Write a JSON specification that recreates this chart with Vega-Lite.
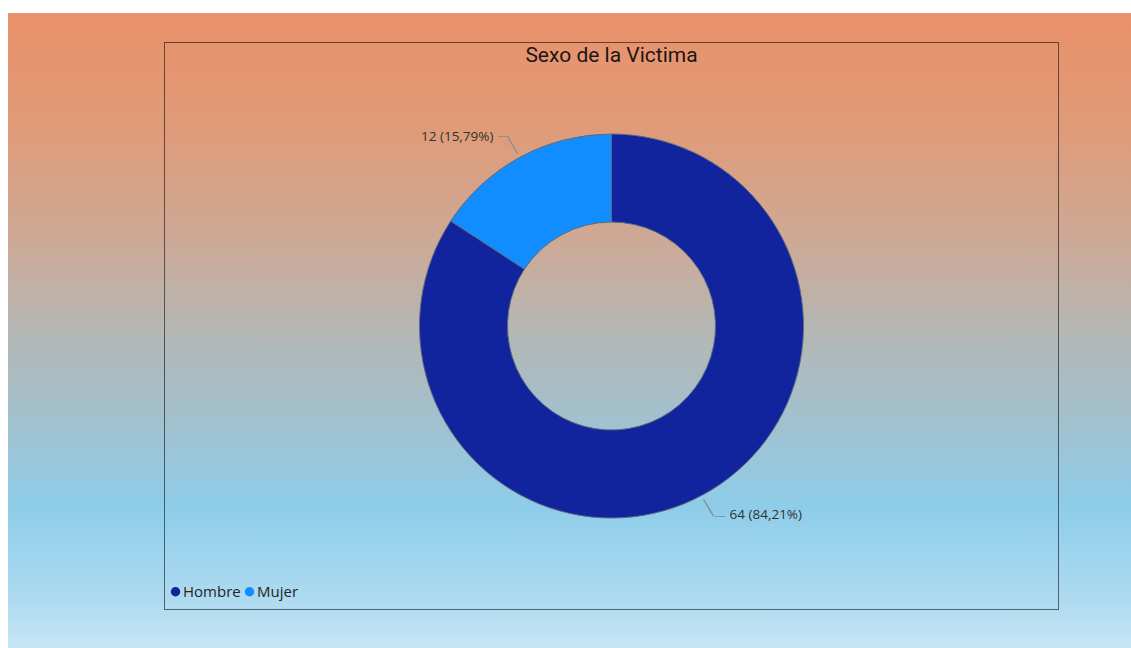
{
  "$schema": "https://vega.github.io/schema/vega-lite/v6.json",
  "background": "white",
  "padding": {"left": 8, "top": 13, "right": 0, "bottom": 0},
  "spacing": 0,
  "bounds": "flush",
  "columns": 3,
  "config": {
    "view": {"stroke": null},
    "legend": {
      "orient": "bottom-left",
      "direction": "horizontal",
      "offset": 10,
      "padding": 0,
      "symbolType": "circle",
      "symbolSize": 90,
      "symbolStrokeWidth": 0,
      "symbolOffset": -6,
      "labelFont": "Open Sans",
      "labelFontSize": 15,
      "labelColor": "#252423",
      "labelOffset": 0,
      "columnPadding": 3
    }
  },
  "resolve": {"scale": {"color": "independent", "theta": "independent"}, "legend": {"color": "independent"}},
  "concat": [
    {
      "width": 156, "height": 29,
      "view": {"fill": {"gradient": "linear", "x1": 0, "y1": 0, "x2": 0, "y2": 21.8966, "stops": [
        {"offset": 0, "color": "#E9916A"}, {"offset": 0.18, "color": "#E09B78"}, {"offset": 0.37, "color": "#CBAA98"},
        {"offset": 0.5, "color": "#B4B7B4"}, {"offset": 0.62, "color": "#A5BFCA"}, {"offset": 0.78, "color": "#8ECDEA"},
        {"offset": 0.92, "color": "#ADDAF0"}, {"offset": 1, "color": "#C6E5F4"}]}},
      "data": {"values": []}, "mark": "rect", "encoding": {}
    },
    {
      "width": 895, "height": 29,
      "view": {"fill": {"gradient": "linear", "x1": 0, "y1": 0, "x2": 0, "y2": 21.8966, "stops": [
        {"offset": 0, "color": "#E9916A"}, {"offset": 0.18, "color": "#E09B78"}, {"offset": 0.37, "color": "#CBAA98"},
        {"offset": 0.5, "color": "#B4B7B4"}, {"offset": 0.62, "color": "#A5BFCA"}, {"offset": 0.78, "color": "#8ECDEA"},
        {"offset": 0.92, "color": "#ADDAF0"}, {"offset": 1, "color": "#C6E5F4"}]}},
      "data": {"values": []}, "mark": "rect", "encoding": {}
    },
    {
      "width": 72, "height": 29,
      "view": {"fill": {"gradient": "linear", "x1": 0, "y1": 0, "x2": 0, "y2": 21.8966, "stops": [
        {"offset": 0, "color": "#E9916A"}, {"offset": 0.18, "color": "#E09B78"}, {"offset": 0.37, "color": "#CBAA98"},
        {"offset": 0.5, "color": "#B4B7B4"}, {"offset": 0.62, "color": "#A5BFCA"}, {"offset": 0.78, "color": "#8ECDEA"},
        {"offset": 0.92, "color": "#ADDAF0"}, {"offset": 1, "color": "#C6E5F4"}]}},
      "data": {"values": []}, "mark": "rect", "encoding": {}
    },
    {
      "width": 156, "height": 568,
      "view": {"fill": {"gradient": "linear", "x1": 0, "y1": -0.051056, "x2": 0, "y2": 1.066901, "stops": [
        {"offset": 0, "color": "#E9916A"}, {"offset": 0.18, "color": "#E09B78"}, {"offset": 0.37, "color": "#CBAA98"},
        {"offset": 0.5, "color": "#B4B7B4"}, {"offset": 0.62, "color": "#A5BFCA"}, {"offset": 0.78, "color": "#8ECDEA"},
        {"offset": 0.92, "color": "#ADDAF0"}, {"offset": 1, "color": "#C6E5F4"}]}},
      "data": {"values": []}, "mark": "rect", "encoding": {}
    },
    {
      "width": 895, "height": 568,
      "view": {"stroke": null, "fill": {"gradient": "linear", "x1": 0, "y1": -0.051056, "x2": 0, "y2": 1.066901, "stops": [
        {"offset": 0, "color": "#E9916A"}, {"offset": 0.18, "color": "#E09B78"}, {"offset": 0.37, "color": "#CBAA98"},
        {"offset": 0.5, "color": "#B4B7B4"}, {"offset": 0.62, "color": "#A5BFCA"}, {"offset": 0.78, "color": "#8ECDEA"},
        {"offset": 0.92, "color": "#ADDAF0"}, {"offset": 1, "color": "#C6E5F4"}]}},
      "title": {"text": "Sexo de la Victima", "font": "Roboto", "fontSize": 21, "fontWeight": "normal", "color": "#1A1716", "anchor": "middle", "baseline": "alphabetic", "offset": -21, "dy": 20},
      "data": {"values": [
        {"sexo": "Hombre", "n": 64, "etiqueta": "64 (84,21%)"},
        {"sexo": "Mujer", "n": 12, "etiqueta": "12 (15,79%)"}
      ]},
      "resolve": {"scale": {"theta": "independent"}},
      "layer": [
        {
          "mark": {"type": "arc", "innerRadius": 104, "outerRadius": 192, "stroke": "#5D6B7E", "strokeWidth": 1},
          "encoding": {
            "theta": {"field": "n", "type": "quantitative", "stack": true},
            "order": {"field": "n", "type": "quantitative", "sort": "descending"},
            "color": {"field": "sexo", "type": "nominal", "scale": {"domain": ["Hombre", "Mujer"], "range": ["#12239E", "#118DFF"]}, "legend": {"title": null}}
          }
        },
        {
          "mark": {"type": "text", "radius": 206, "angle": 59, "font": "Liberation Sans", "fontSize": 19, "color": "#8C8C8C"},
          "encoding": {
            "theta": {"field": "n", "type": "quantitative", "stack": true},
            "order": {"field": "n", "type": "quantitative", "sort": "descending"},
            "text": {"value": "—"}
          }
        },
        {
          "mark": {"type": "text", "radius": 219, "font": "Liberation Sans", "fontSize": 11, "color": "#8C8C8C"},
          "encoding": {
            "theta": {"field": "n", "type": "quantitative", "stack": true, "scale": {"range": [-0.0227, 6.2605]}},
            "order": {"field": "n", "type": "quantitative", "sort": "descending"},
            "text": {"value": "—"}
          }
        },
        {
          "mark": {"type": "text", "radius": 244, "font": "Open Sans", "fontSize": 13.5, "color": "#323130"},
          "encoding": {
            "theta": {"field": "n", "type": "quantitative", "stack": true, "scale": {"range": [-0.1885, 6.0947]}},
            "order": {"field": "n", "type": "quantitative", "sort": "descending"},
            "text": {"field": "etiqueta", "type": "nominal"}
          }
        },
        {
          "data": {"values": [{}]},
          "mark": {"type": "rect", "filled": false, "color": "#000000", "strokeOpacity": 0.55, "strokeWidth": 2, "clip": true},
          "encoding": {}
        }
      ]
    },
    {
      "width": 72, "height": 568,
      "view": {"fill": {"gradient": "linear", "x1": 0, "y1": -0.051056, "x2": 0, "y2": 1.066901, "stops": [
        {"offset": 0, "color": "#E9916A"}, {"offset": 0.18, "color": "#E09B78"}, {"offset": 0.37, "color": "#CBAA98"},
        {"offset": 0.5, "color": "#B4B7B4"}, {"offset": 0.62, "color": "#A5BFCA"}, {"offset": 0.78, "color": "#8ECDEA"},
        {"offset": 0.92, "color": "#ADDAF0"}, {"offset": 1, "color": "#C6E5F4"}]}},
      "data": {"values": []}, "mark": "rect", "encoding": {}
    },
    {
      "width": 156, "height": 38,
      "view": {"fill": {"gradient": "linear", "x1": 0, "y1": -15.7105, "x2": 0, "y2": 1, "stops": [
        {"offset": 0, "color": "#E9916A"}, {"offset": 0.18, "color": "#E09B78"}, {"offset": 0.37, "color": "#CBAA98"},
        {"offset": 0.5, "color": "#B4B7B4"}, {"offset": 0.62, "color": "#A5BFCA"}, {"offset": 0.78, "color": "#8ECDEA"},
        {"offset": 0.92, "color": "#ADDAF0"}, {"offset": 1, "color": "#C6E5F4"}]}},
      "data": {"values": []}, "mark": "rect", "encoding": {}
    },
    {
      "width": 895, "height": 38,
      "view": {"fill": {"gradient": "linear", "x1": 0, "y1": -15.7105, "x2": 0, "y2": 1, "stops": [
        {"offset": 0, "color": "#E9916A"}, {"offset": 0.18, "color": "#E09B78"}, {"offset": 0.37, "color": "#CBAA98"},
        {"offset": 0.5, "color": "#B4B7B4"}, {"offset": 0.62, "color": "#A5BFCA"}, {"offset": 0.78, "color": "#8ECDEA"},
        {"offset": 0.92, "color": "#ADDAF0"}, {"offset": 1, "color": "#C6E5F4"}]}},
      "data": {"values": []}, "mark": "rect", "encoding": {}
    },
    {
      "width": 72, "height": 38,
      "view": {"fill": {"gradient": "linear", "x1": 0, "y1": -15.7105, "x2": 0, "y2": 1, "stops": [
        {"offset": 0, "color": "#E9916A"}, {"offset": 0.18, "color": "#E09B78"}, {"offset": 0.37, "color": "#CBAA98"},
        {"offset": 0.5, "color": "#B4B7B4"}, {"offset": 0.62, "color": "#A5BFCA"}, {"offset": 0.78, "color": "#8ECDEA"},
        {"offset": 0.92, "color": "#ADDAF0"}, {"offset": 1, "color": "#C6E5F4"}]}},
      "data": {"values": []}, "mark": "rect", "encoding": {}
    }
  ]
}
